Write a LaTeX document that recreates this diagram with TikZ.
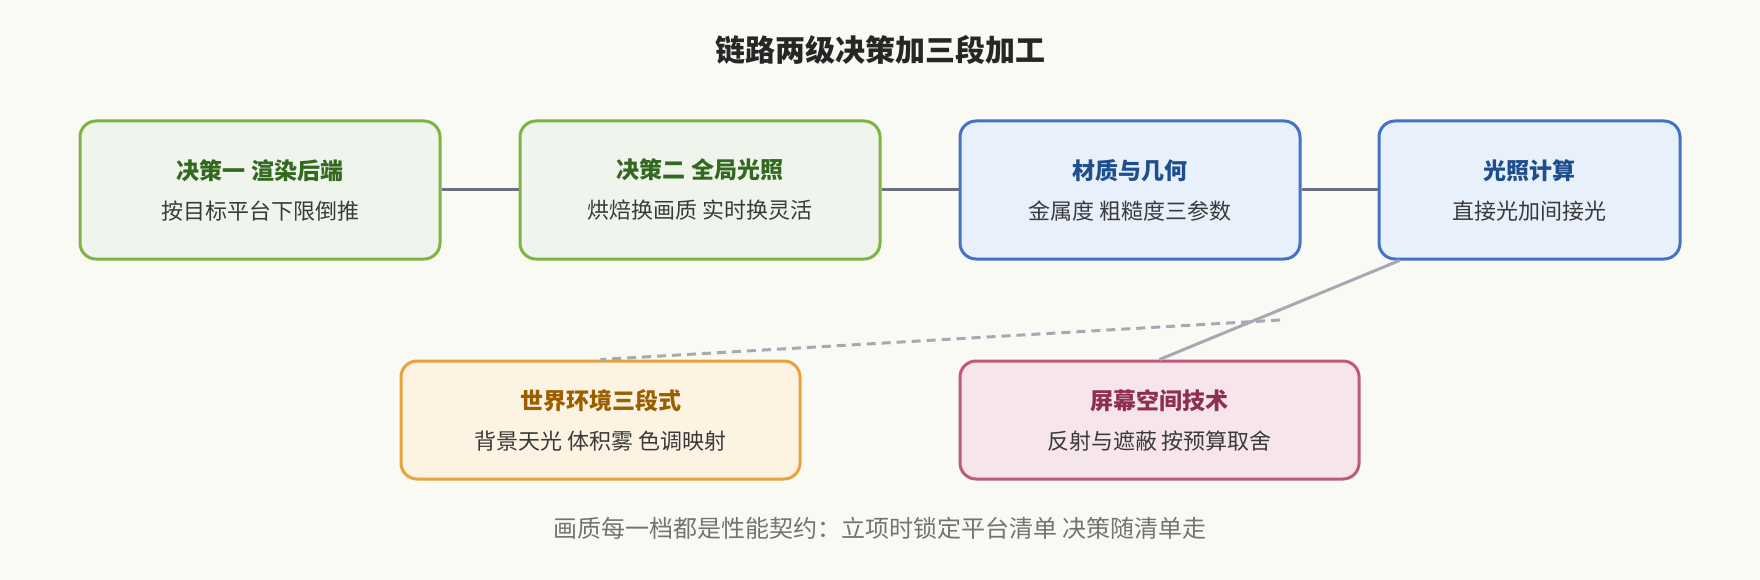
\documentclass[tikz,border=0pt]{standalone}
\usepackage{fontspec}
\setmainfont{Noto Sans CJK SC}
\usetikzlibrary{positioning}
\definecolor{bgc}{HTML}{FAFAF5}
\definecolor{grnb}{HTML}{7CB342}\definecolor{grnf}{HTML}{EFF5EC}\definecolor{grnt}{HTML}{33691E}
\definecolor{blub}{HTML}{4472C4}\definecolor{bluf}{HTML}{E8F0FC}\definecolor{blut}{HTML}{1F4E8C}
\definecolor{orab}{HTML}{E8A33D}\definecolor{oraf}{HTML}{FDF3E3}\definecolor{orat}{HTML}{9C5F00}
\definecolor{redb}{HTML}{C0587A}\definecolor{redf}{HTML}{F6E6EA}\definecolor{redt}{HTML}{8E2F4D}
\definecolor{linkc}{HTML}{6B7080}\definecolor{txtc}{HTML}{3A3A3A}
\tikzset{
  box/.style={draw, line width=3pt, rounded corners=16pt, minimum height=138pt, align=center, text=txtc, font=\fontsize{22}{34}\selectfont},
  lowbox/.style={box, minimum height=118pt},
  link/.style={line width=3pt, linkc},
  slant/.style={line width=3pt, linkc!60},
}
\newcommand{\bt}[2]{{\color{#1}\bfseries\fontsize{23}{34}\selectfont #2}\\[6pt]}
\begin{document}
\begin{tikzpicture}[x=1pt,y=-1pt]
  \useasboundingbox[fill=bgc] (0,0) rectangle (1760,580);
  \node[font=\bfseries\fontsize{30}{34}\selectfont, text=black!85] (title) at (880,50) {链路两级决策加三段加工};
  \node[box, draw=grnb, fill=grnf, minimum width=360pt] (back) at (260,190) {\bt{grnt}{决策一 渲染后端}按目标平台下限倒推};
  \node[box, draw=grnb, fill=grnf, minimum width=360pt] (gi) at (700,190) {\bt{grnt}{决策二 全局光照}烘焙换画质 实时换灵活};
  \node[box, draw=blub, fill=bluf, minimum width=340pt] (mat) at (1130,190) {\bt{blut}{材质与几何}金属度 粗糙度三参数};
  \node[box, draw=blub, fill=bluf, minimum width=301pt] (light) at (1529.5,190) {\bt{blut}{光照计算}直接光加间接光};
  \node[lowbox, draw=orab, fill=oraf, minimum width=399pt] (world) at (600.5,420) {\bt{orat}{世界环境三段式}背景天光 体积雾 色调映射};
  \node[lowbox, draw=redb, fill=redf, minimum width=399pt] (screen) at (1159.5,420) {\bt{redt}{屏幕空间技术}反射与遮蔽 按预算取舍};
  \node[font=\fontsize{24}{34}\selectfont, text=black!55] (note) at (880,528) {画质每一档都是性能契约：立项时锁定平台清单 决策随清单走};
  \coordinate (dashend) at (1280,320);
  % chain
  \draw[link] (back) -- (gi);
  \draw[link] (gi) -- (mat);
  \draw[link] (mat) -- (light);
  \draw[slant] (light.south west) ++(22,0) -- (screen.north);
  \draw[slant, dash pattern=on 9pt off 6pt] (dashend) -- (world.north);
\end{tikzpicture}
\end{document}
